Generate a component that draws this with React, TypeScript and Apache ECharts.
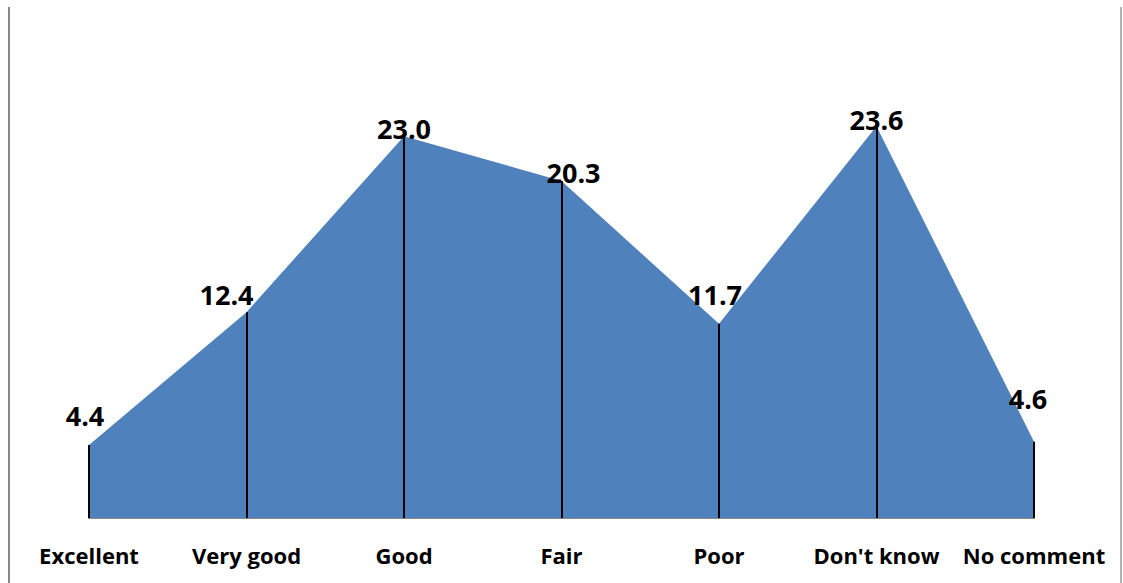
import React, { useEffect, useRef } from "react";
import * as echarts from "echarts";

const categories = ["Excellent", "Very good", "Good", "Fair", "Poor", "Don't know", "No comment"];
const values = [4.4, 12.4, 23.0, 20.3, 11.7, 23.6, 4.6];
const labelOffsets: [number, number][] = [
  [-4, -15],
  [-20, -4],
  [0, 6],
  [12, 5],
  [-4, -15],
  [0, 7],
  [-6, -29],
];

export default function App() {
  const ref = useRef<HTMLDivElement>(null);
  useEffect(() => {
    if (!ref.current) return;
    const chart = echarts.init(ref.current, undefined, { renderer: "svg" });
    const font = "'Open Sans', 'Noto Sans', sans-serif";
    chart.setOption({
      animation: false,
      grid: { left: 89, right: 89, top: 20, bottom: 65 },
      xAxis: {
        type: "category",
        data: categories,
        boundaryGap: false,
        axisLine: { show: true, lineStyle: { color: "#888888", width: 2 } },
        axisTick: { show: false },
        axisLabel: {
          color: "#000",
          fontWeight: "bold",
          fontSize: 22,
          fontFamily: font,
          margin: 26,
          interval: 0,
        },
        splitLine: { show: false },
      },
      yAxis: {
        type: "value",
        min: 0,
        max: 30,
        show: false,
        splitLine: { show: false },
      },
      graphic: [
        { type: "line", shape: { x1: 9, y1: 7, x2: 9, y2: 583 }, style: { stroke: "#888888", lineWidth: 2 } },
        { type: "line", shape: { x1: 1121, y1: 7, x2: 1121, y2: 583 }, style: { stroke: "#999999", lineWidth: 1.5 } },
      ],
      series: [
        {
          type: "line",
          data: values.map((v, i) => ({
            value: v,
            label: { offset: labelOffsets[i] },
          })),
          symbol: "circle",
          symbolSize: 1,
          showSymbol: true,
          itemStyle: { color: "rgba(0,0,0,0)" },
          lineStyle: { width: 0 },
          areaStyle: { color: "#4F81BD", opacity: 1 },
          label: {
            show: true,
            position: "top",
            distance: 0,
            color: "#000",
            fontWeight: "bold",
            fontSize: 27,
            fontFamily: font,
            formatter: (p: any) => Number(p.value).toFixed(1),
          },
          markLine: {
            silent: true,
            symbol: "none",
            label: { show: false },
            lineStyle: { color: "#000", width: 2, type: "solid" },
            data: values.map((v, i) => [
              { coord: [i, v] },
              { coord: [i, 0] },
            ]),
          },
          z: 2,
        },
      ],
    });
    return () => chart.dispose();
  }, []);
  return <div ref={ref} style={{ width: 1123, height: 583, position: "absolute", left: 0, top: 0 }} />;
}
